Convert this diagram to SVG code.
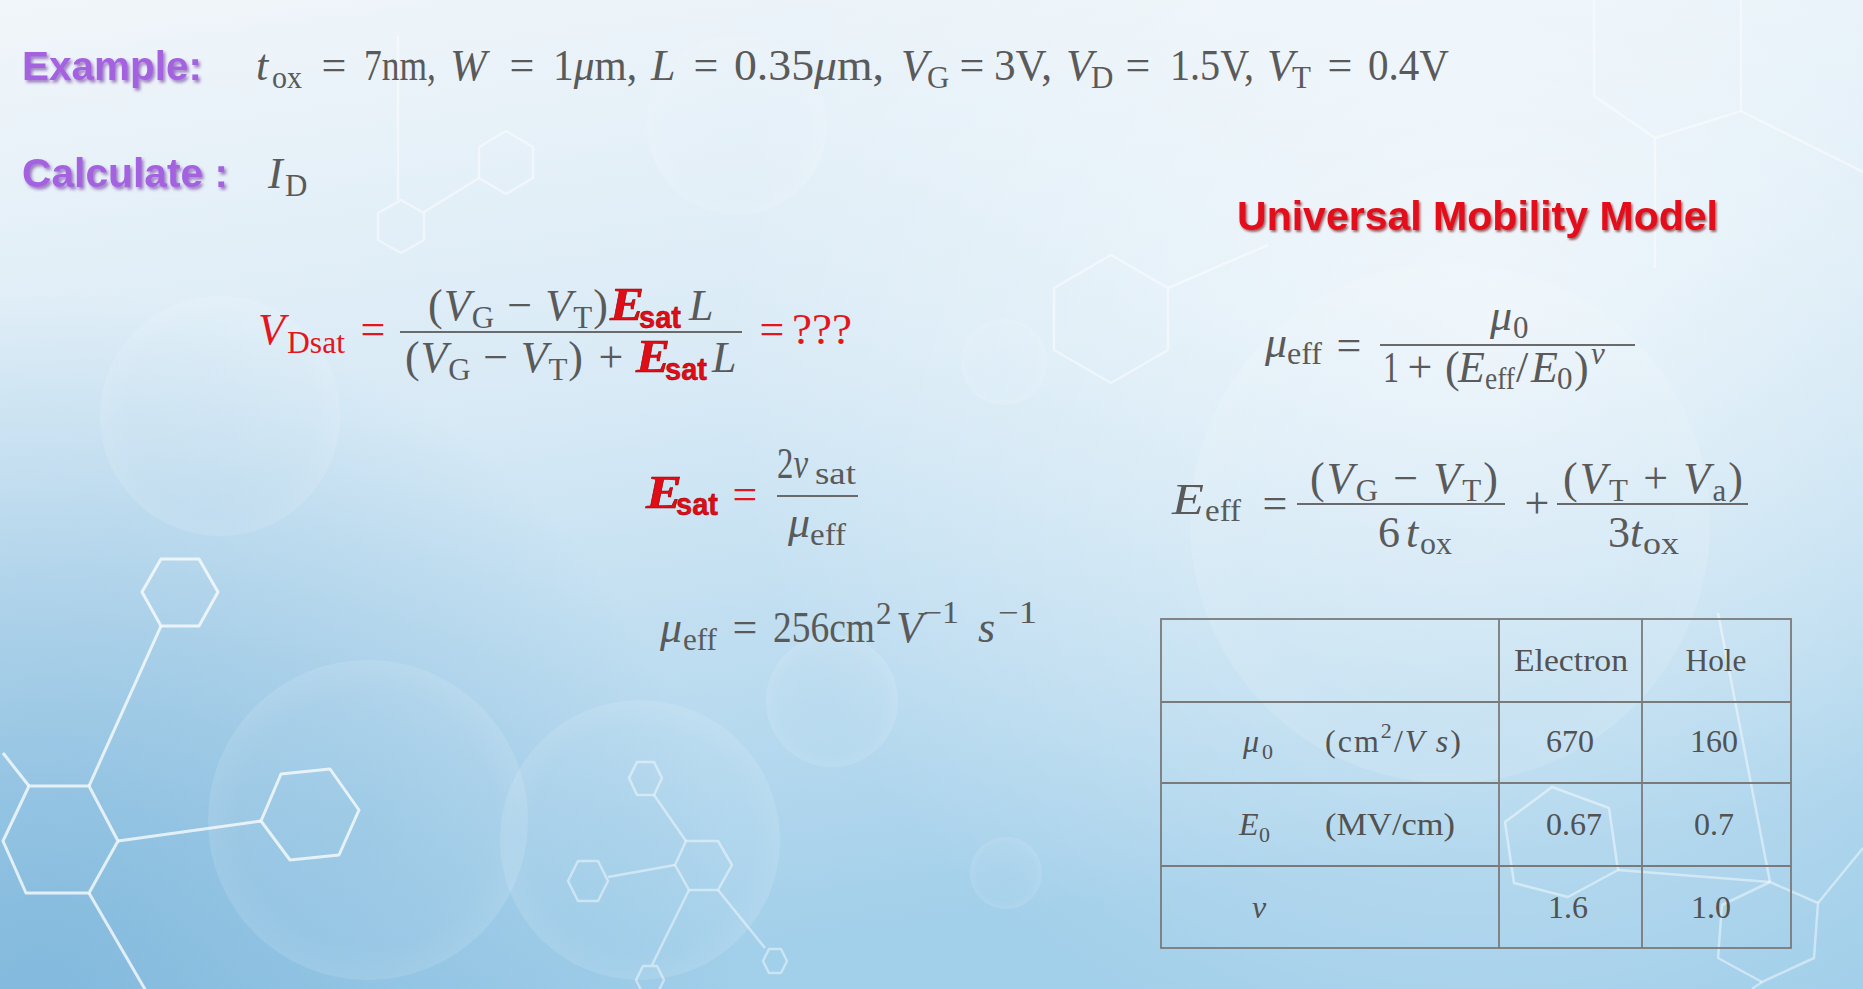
<svg xmlns="http://www.w3.org/2000/svg" width="1863" height="989" viewBox="0 0 1863 989">
<defs>
  <linearGradient id="bg" x1="0" y1="0" x2="0.25" y2="1">
    <stop offset="0" stop-color="#f1f6fa"/>
    <stop offset="0.45" stop-color="#d8eaf6"/>
    <stop offset="1" stop-color="#a2cfea"/>
  </linearGradient>
  <radialGradient id="glowR" cx="1480" cy="330" r="760" gradientUnits="userSpaceOnUse">
    <stop offset="0" stop-color="#ffffff" stop-opacity="0.6"/>
    <stop offset="1" stop-color="#ffffff" stop-opacity="0"/>
  </radialGradient>
  <radialGradient id="darkBL" cx="40" cy="989" r="700" gradientUnits="userSpaceOnUse">
    <stop offset="0" stop-color="#79b3d9" stop-opacity="0.8"/>
    <stop offset="1" stop-color="#79b3d9" stop-opacity="0"/>
  </radialGradient>
  <radialGradient id="bubble">
    <stop offset="0" stop-color="#ffffff" stop-opacity="0.02"/>
    <stop offset="0.8" stop-color="#ffffff" stop-opacity="0.05"/>
    <stop offset="1" stop-color="#ffffff" stop-opacity="0.12"/>
  </radialGradient>
  <filter id="shP" x="-5%" y="-20%" width="110%" height="150%">
    <feDropShadow dx="2" dy="2.5" stdDeviation="1.5" flood-color="#5b2390" flood-opacity="0.55"/>
  </filter>
  <filter id="shR" x="-5%" y="-20%" width="110%" height="150%">
    <feDropShadow dx="1.5" dy="2" stdDeviation="1.2" flood-color="#6a0000" flood-opacity="0.6"/>
  </filter>
  <style>
    .hd { font-family: "Liberation Sans", Arial, sans-serif; font-weight: bold; font-size: 40px; }
    .pu { fill: #a462e0; filter: url(#shP); }
    .rd { fill: #e3101a; filter: url(#shR); }
    .m { font-family: "Liberation Serif", "DejaVu Serif", serif; font-size: 44px; fill: #5a5a5a; }
    .s { font-size: 31px; }
    .i { font-style: italic; }
    .red { fill: #e3161e; }
    .eb { font-family: "Liberation Serif", serif; font-weight: bold; font-style: italic; font-size: 46px; fill: #e00d17; stroke: #9a0000; stroke-width: 0.6; }
    .sb { font-family: "Liberation Sans", Arial, sans-serif; font-weight: bold; font-size: 31px; fill: #e00d17; stroke: #9a0000; stroke-width: 0.5; }
    .bar { stroke: #6a6a6a; stroke-width: 2; }
    .t { font-family: "Liberation Serif", "DejaVu Serif", serif; font-size: 32px; fill: #525252; }
    .ts { font-size: 22px; }
    .grid { stroke: #7a7a7a; stroke-width: 1.8; fill: none; }
    .hx { fill: none; stroke: #ffffff; stroke-width: 3; stroke-opacity: 0.75; stroke-linejoin: round; }
    .hxf { fill: none; stroke: #ffffff; stroke-width: 2.5; stroke-opacity: 0.45; stroke-linejoin: round; }
    .bb { fill: url(#bubble); }
  </style>
</defs>

<g id="background">
  <rect x="0" y="0" width="1863" height="989" fill="url(#bg)"/>
  <rect x="0" y="0" width="1863" height="989" fill="url(#darkBL)"/>
  <rect x="0" y="0" width="1863" height="989" fill="url(#glowR)"/>
  <circle class="bb" cx="220" cy="416" r="120"/>
  <circle class="bb" cx="368" cy="820" r="160"/>
  <circle class="bb" cx="832" cy="701" r="66"/>
  <circle class="bb" cx="1004" cy="362" r="43"/>
  <circle class="bb" cx="1006" cy="873" r="36"/>
  <circle class="bb" cx="737" cy="125" r="90"/>
  <circle class="bb" cx="1450" cy="523" r="260"/>
  <circle class="bb" cx="640" cy="840" r="140"/>
  <!-- top-left molecule -->
  <line class="hxf" x1="398" y1="36" x2="398" y2="200"/>
  <polygon class="hxf" points="506,131 533,147 533,178 506,194 479,178 479,147"/>
  <line class="hxf" x1="479" y1="178" x2="424" y2="212"/>
  <polygon class="hxf" points="401,200 424,213 424,240 401,253 378,240 378,213"/>
  <!-- middle hexagon -->
  <polygon class="hxf" points="1111,255 1168,288 1168,350 1111,383 1054,350 1054,288"/>
  <line class="hxf" x1="1168" y1="288" x2="1268" y2="245"/>
  <!-- top-right -->
  <polyline class="hxf" points="1594,0 1594,96 1655,138 1741,111 1741,0"/>
  <line class="hxf" x1="1655" y1="138" x2="1655" y2="268"/>
  <line class="hxf" x1="1741" y1="111" x2="1863" y2="172"/>
  <!-- bottom-left molecule -->
  <polygon class="hx" points="161,559 199,559 218,592 199,626 161,626 142,592"/>
  <line class="hx" x1="161" y1="626" x2="89" y2="786"/>
  <polygon class="hx" points="29,786 89,786 118,841 89,893 26,893 3,841"/>
  <line class="hx" x1="29" y1="786" x2="3" y2="753"/>
  <line class="hx" x1="118" y1="841" x2="261" y2="821"/>
  <polygon class="hx" points="281,774 330,769 359,810 339,855 290,860 261,821"/>
  <line class="hx" x1="89" y1="893" x2="146" y2="991"/>
  <!-- bottom-centre molecule -->
  <polygon class="hxf" points="637,762 654,762 662,778 654,795 637,795 629,778"/>
  <line class="hxf" x1="654" y1="795" x2="686" y2="841"/>
  <polygon class="hxf" points="686,841 718,841 732,865 718,890 689,890 675,865"/>
  <line class="hxf" x1="675" y1="865" x2="608" y2="877"/>
  <polygon class="hxf" points="578,861 598,861 608,881 598,901 578,901 568,881"/>
  <line class="hxf" x1="718" y1="890" x2="765" y2="948"/>
  <polygon class="hxf" points="769,949 781,949 787,961 781,973 769,973 763,961"/>
  <line class="hxf" x1="689" y1="890" x2="652" y2="965"/>
  <polygon class="hxf" points="643,966 657,966 664,980 657,994 643,994 636,980"/>
  <!-- right molecule near table -->
  <polygon class="hxf" points="1552,787 1609,808 1618,870 1568,897 1514,883 1505,822"/>
  <line class="hxf" x1="1618" y1="870" x2="1770" y2="882"/>
  <line class="hxf" x1="1718" y1="613" x2="1770" y2="882"/>
  <polygon class="hxf" points="1770,882 1818,903 1814,958 1762,982 1718,958 1722,905"/>
  <line class="hxf" x1="1818" y1="903" x2="1863" y2="848"/>
  <line class="hxf" x1="1762" y1="982" x2="1752" y2="989"/>
</g>

<g id="connectors"></g>

<g id="example">
  <text class="hd pu" x="22" y="80" textLength="180" lengthAdjust="spacingAndGlyphs">Example:</text>
  <text class="m i" x="256" y="80">t</text>
  <text class="m s" x="272" y="88" textLength="30" lengthAdjust="spacingAndGlyphs">ox</text>
  <text class="m" x="334" y="80" text-anchor="middle">=</text>
  <text class="m" x="364" y="80" textLength="72" lengthAdjust="spacingAndGlyphs">7nm,</text>
  <text class="m i" x="450" y="80">W</text>
  <text class="m" x="522" y="80" text-anchor="middle">=</text>
  <text class="m" x="553" y="80" textLength="84" lengthAdjust="spacingAndGlyphs">1<tspan class="i">μ</tspan>m,</text>
  <text class="m i" x="651" y="80">L</text>
  <text class="m" x="706" y="80" text-anchor="middle">=</text>
  <text class="m" x="734" y="80" textLength="150" lengthAdjust="spacingAndGlyphs">0.35<tspan class="i">μ</tspan>m,</text>
  <text class="m i" x="901" y="80">V</text>
  <text class="m s" x="927" y="88">G</text>
  <text class="m" x="972" y="80" text-anchor="middle">=</text>
  <text class="m" x="994" y="80" textLength="58" lengthAdjust="spacingAndGlyphs">3V,</text>
  <text class="m i" x="1066" y="80">V</text>
  <text class="m s" x="1091" y="88">D</text>
  <text class="m" x="1138" y="80" text-anchor="middle">=</text>
  <text class="m" x="1170" y="80" textLength="84" lengthAdjust="spacingAndGlyphs">1.5V,</text>
  <text class="m i" x="1267" y="80">V</text>
  <text class="m s" x="1292" y="88">T</text>
  <text class="m" x="1340" y="80" text-anchor="middle">=</text>
  <text class="m" x="1368" y="80" textLength="81" lengthAdjust="spacingAndGlyphs">0.4V</text>
</g>

<g id="calculate">
  <text class="hd pu" x="22" y="187" textLength="206" lengthAdjust="spacingAndGlyphs">Calculate :</text>
  <text class="m i" x="268" y="188">I</text>
  <text class="m s" x="285" y="196">D</text>
</g>

<g id="title-umm">
  <text class="hd rd" x="1237" y="230" font-size="41" textLength="481" lengthAdjust="spacingAndGlyphs">Universal Mobility Model</text>
</g>

<g id="eq-vdsat">
  <text class="m i red" x="258" y="344">V</text>
  <text class="m s red" x="287" y="353" textLength="58" lengthAdjust="spacingAndGlyphs">Dsat</text>
  <text class="m red" x="373" y="344" text-anchor="middle">=</text>
  <line class="bar" x1="400" y1="332" x2="742" y2="332"/>
  <text class="m" x="428" y="320" textLength="180">(<tspan class="i">V</tspan><tspan class="s" dy="8">G</tspan><tspan dy="-8"> − </tspan><tspan class="i">V</tspan><tspan class="s" dy="8">T</tspan><tspan dy="-8">)</tspan></text>
  <text class="eb" x="610" y="320" textLength="34" lengthAdjust="spacingAndGlyphs">E</text>
  <text class="sb" x="639" y="328" textLength="42" lengthAdjust="spacingAndGlyphs">sat</text>
  <text class="m i" x="689" y="320">L</text>
  <text class="m" x="405" y="372" textLength="178">(<tspan class="i">V</tspan><tspan class="s" dy="8">G</tspan><tspan dy="-8"> − </tspan><tspan class="i">V</tspan><tspan class="s" dy="8">T</tspan><tspan dy="-8">)</tspan></text>
  <text class="m" x="611" y="372" text-anchor="middle">+</text>
  <text class="eb" x="636" y="372" textLength="34" lengthAdjust="spacingAndGlyphs">E</text>
  <text class="sb" x="665" y="380" textLength="42" lengthAdjust="spacingAndGlyphs">sat</text>
  <text class="m i" x="712" y="372">L</text>
  <text class="m red" x="772" y="344" text-anchor="middle">=</text>
  <text class="m red" x="792" y="344" textLength="60" lengthAdjust="spacingAndGlyphs">???</text>
</g>

<g id="eq-esat">
  <text class="eb" x="646" y="508" textLength="36" lengthAdjust="spacingAndGlyphs">E</text>
  <text class="sb" x="676" y="515" textLength="42" lengthAdjust="spacingAndGlyphs">sat</text>
  <text class="m red" x="745" y="509" text-anchor="middle">=</text>
  <line class="bar" x1="777" y1="496" x2="858" y2="496"/>
  <text class="m" x="777" y="478" textLength="31" lengthAdjust="spacingAndGlyphs">2<tspan class="i">v</tspan></text>
  <text class="m s" x="815" y="484" textLength="41" lengthAdjust="spacingAndGlyphs">sat</text>
  <text class="m i" x="788" y="537">μ</text>
  <text class="m s" x="810" y="545" textLength="36" lengthAdjust="spacingAndGlyphs">eff</text>
</g>

<g id="eq-mueff-value">
  <text class="m i" x="660" y="642">μ</text>
  <text class="m s" x="683" y="650" textLength="34" lengthAdjust="spacingAndGlyphs">eff</text>
  <text class="m" x="745" y="642" text-anchor="middle">=</text>
  <text class="m" x="773" y="642" textLength="102" lengthAdjust="spacingAndGlyphs">256cm</text>
  <text class="m s" x="876" y="624">2</text>
  <text class="m i" x="896" y="642">V</text>
  <text class="m s" x="923" y="623" textLength="36" lengthAdjust="spacingAndGlyphs">−1</text>
  <text class="m i" x="978" y="642">s</text>
  <text class="m s" x="998" y="623" textLength="39" lengthAdjust="spacingAndGlyphs">−1</text>
</g>

<g id="eq-mueff-model">
  <text class="m i" x="1265" y="357">μ</text>
  <text class="m s" x="1287" y="364" textLength="35" lengthAdjust="spacingAndGlyphs">eff</text>
  <text class="m" x="1349" y="360" text-anchor="middle">=</text>
  <line class="bar" x1="1380" y1="345" x2="1635" y2="345"/>
  <text class="m i" x="1490" y="330">μ</text>
  <text class="m s" x="1513" y="338">0</text>
  <text class="m" x="1383" y="382" textLength="16" lengthAdjust="spacingAndGlyphs">1</text>
  <text class="m" x="1420" y="382" text-anchor="middle">+</text>
  <text class="m" x="1445" y="382">(</text>
  <text class="m i" x="1458" y="382">E</text>
  <text class="m s" x="1485" y="389" textLength="30" lengthAdjust="spacingAndGlyphs">eff</text>
  <text class="m" x="1516" y="382">/</text>
  <text class="m i" x="1531" y="382">E</text>
  <text class="m s" x="1557" y="389">0</text>
  <text class="m" x="1574" y="382">)</text>
  <text class="m s i" x="1591" y="364">ν</text>
</g>

<g id="eq-eeff">
  <text class="m i" x="1172" y="514" textLength="32" lengthAdjust="spacingAndGlyphs">E</text>
  <text class="m s" x="1205" y="521" textLength="36" lengthAdjust="spacingAndGlyphs">eff</text>
  <text class="m" x="1275" y="518" text-anchor="middle">=</text>
  <line class="bar" x1="1297" y1="504" x2="1505" y2="504"/>
  <text class="m" x="1310" y="493" textLength="188">(<tspan class="i">V</tspan><tspan class="s" dy="8">G</tspan><tspan dy="-8"> − </tspan><tspan class="i">V</tspan><tspan class="s" dy="8">T</tspan><tspan dy="-8">)</tspan></text>
  <text class="m" x="1378" y="547">6</text>
  <text class="m i" x="1406" y="547">t</text>
  <text class="m s" x="1420" y="554" textLength="32" lengthAdjust="spacingAndGlyphs">ox</text>
  <text class="m" x="1537" y="518" text-anchor="middle">+</text>
  <line class="bar" x1="1557" y1="504" x2="1748" y2="504"/>
  <text class="m" x="1563" y="493" textLength="180">(<tspan class="i">V</tspan><tspan class="s" dy="8">T</tspan><tspan dy="-8"> + </tspan><tspan class="i">V</tspan><tspan class="s" dy="8">a</tspan><tspan dy="-8">)</tspan></text>
  <text class="m" x="1608" y="547">3</text>
  <text class="m i" x="1630" y="547">t</text>
  <text class="m s" x="1643" y="554" textLength="36" lengthAdjust="spacingAndGlyphs">ox</text>
</g>

<g id="table">
  <rect class="grid" x="1161" y="619" width="630" height="329"/>
  <line class="grid" x1="1499" y1="619" x2="1499" y2="948"/>
  <line class="grid" x1="1642" y1="619" x2="1642" y2="948"/>
  <line class="grid" x1="1161" y1="702" x2="1791" y2="702"/>
  <line class="grid" x1="1161" y1="783" x2="1791" y2="783"/>
  <line class="grid" x1="1161" y1="866" x2="1791" y2="866"/>
  <text class="t" x="1571" y="671" text-anchor="middle" textLength="114" lengthAdjust="spacingAndGlyphs">Electron</text>
  <text class="t" x="1716" y="671" text-anchor="middle" textLength="61" lengthAdjust="spacingAndGlyphs">Hole</text>
  <text class="t i" x="1243" y="752">μ</text>
  <text class="t ts" x="1262" y="759">0</text>
  <text class="t" x="1325" y="752" textLength="136">(cm<tspan class="ts" dy="-14">2</tspan><tspan dy="14">/</tspan><tspan class="i">V s</tspan>)</text>
  <text class="t" x="1570" y="752" text-anchor="middle">670</text>
  <text class="t" x="1714" y="752" text-anchor="middle">160</text>
  <text class="t i" x="1239" y="835">E</text>
  <text class="t ts" x="1259" y="842">0</text>
  <text class="t" x="1325" y="835" textLength="130" lengthAdjust="spacingAndGlyphs">(MV/cm)</text>
  <text class="t" x="1574" y="835" text-anchor="middle">0.67</text>
  <text class="t" x="1714" y="835" text-anchor="middle">0.7</text>
  <text class="t i" x="1252" y="918">ν</text>
  <text class="t" x="1568" y="918" text-anchor="middle">1.6</text>
  <text class="t" x="1711" y="918" text-anchor="middle">1.0</text>
</g>
</svg>
